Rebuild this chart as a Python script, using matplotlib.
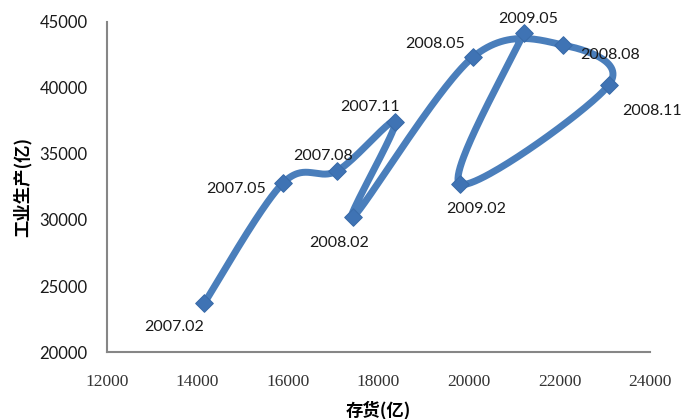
import numpy as np
import matplotlib
matplotlib.use("Agg")
import matplotlib.pyplot as plt

plt.rcParams['font.family'] = ['Lato', 'Noto Sans CJK SC', 'DejaVu Sans']

# Monthly observations: inventory (x) vs industrial output (y), both in 亿
periods = ["2007.02", "2007.05", "2007.08", "2007.11", "2008.02",
           "2008.05", "2008.08", "2008.11", "2009.02", "2009.05"]
inventory = [14150, 15890, 17080, 18370, 17440,
             20090, 22080, 23090, 19800, 21210]
output = [23710, 32800, 33710, 37420, 30230,
          42350, 43260, 40230, 32730, 44170]

# label offsets in points (dx, dy) and alignment
label_pos = {
    "2007.02": (-22, -17, "center"),
    "2007.05": (-12, -4, "right"),
    "2007.08": (-10, 11, "center"),
    "2007.11": (-18, 11, "center"),
    "2008.02": (-10, -19, "center"),
    "2008.05": (-27, 9, "center"),
    "2008.08": (34, -7, "center"),
    "2008.11": (31, -19, "center"),
    "2009.02": (12, -18, "center"),
    "2009.05": (3, 10, "center"),
}


def smooth_path(xs, ys, n=60):
    """Catmull-Rom style smoothing through the points (office-chart look)."""
    px = np.array(xs, float)
    py = np.array(ys, float)
    # work in normalised space so x and y scales are comparable
    sx = 1 / 12000.0
    sy = 1 / 25000.0 * (330 / 543)
    P = np.column_stack([px * sx, py * sy])
    pts = np.vstack([P[0], P, P[-1]])
    out = []
    for i in range(1, len(pts) - 2):
        p0, p1, p2, p3 = pts[i - 1], pts[i], pts[i + 1], pts[i + 2]
        c1 = p1 + (p2 - p0) / 6.0
        c2 = p2 - (p3 - p1) / 6.0
        t = np.linspace(0, 1, n)[:, None]
        seg = ((1 - t) ** 3) * p1 + 3 * ((1 - t) ** 2) * t * c1 \
            + 3 * (1 - t) * t ** 2 * c2 + t ** 3 * p2
        out.append(seg if i == 1 else seg[1:])
    out = np.vstack(out)
    return out[:, 0] / sx, out[:, 1] / sy


fig = plt.figure(figsize=(6.86, 4.19), dpi=100)
ax = fig.add_axes([107 / 686, 1 - 352 / 419, 543 / 686, 330 / 419])

cx, cy = smooth_path(inventory, output)
ax.plot(cx, cy, color="#4A7EBB", lw=5, solid_capstyle="butt", zorder=2)
ax.scatter(inventory, output, marker="D", s=80, color="#3F73B4",
           edgecolors="#3A6CAA", linewidths=0.8, zorder=3)

for p, x, y in zip(periods, inventory, output):
    dx, dy, ha = label_pos[p]
    ax.annotate(p, (x, y), xytext=(dx, dy), textcoords="offset points",
                ha=ha, va="center", fontsize=11.5, color="#1a1a1a")

ax.set_xlim(12000, 24000)
ax.set_ylim(20000, 45000)
ax.set_xticks(range(12000, 24001, 2000))
ax.set_yticks(range(20000, 45001, 5000))
ax.tick_params(length=0)
ax.tick_params(axis="y", pad=14, labelsize=12, labelcolor="#1a1a1a")
ax.tick_params(axis="x", pad=16, labelsize=12.5, labelcolor="#333333")
for lab in ax.get_xticklabels():
    lab.set_family(["Liberation Serif"])

for side in ("top", "right"):
    ax.spines[side].set_visible(False)
for side in ("left", "bottom"):
    ax.spines[side].set_color("#868686")
    ax.spines[side].set_linewidth(1.5)

fig.text(378 / 686, 1 - 410 / 419, "存货(亿)", ha="center", va="center",
         fontsize=12.5, fontweight="bold", family=["Noto Sans CJK SC"])
fig.text(22 / 686, 1 - 187 / 419, "工业生产(亿)", ha="center", va="center",
         rotation=90, fontsize=12.5, fontweight="bold",
         family=["Noto Sans CJK SC"])

fig.savefig("out.png", dpi=100)
